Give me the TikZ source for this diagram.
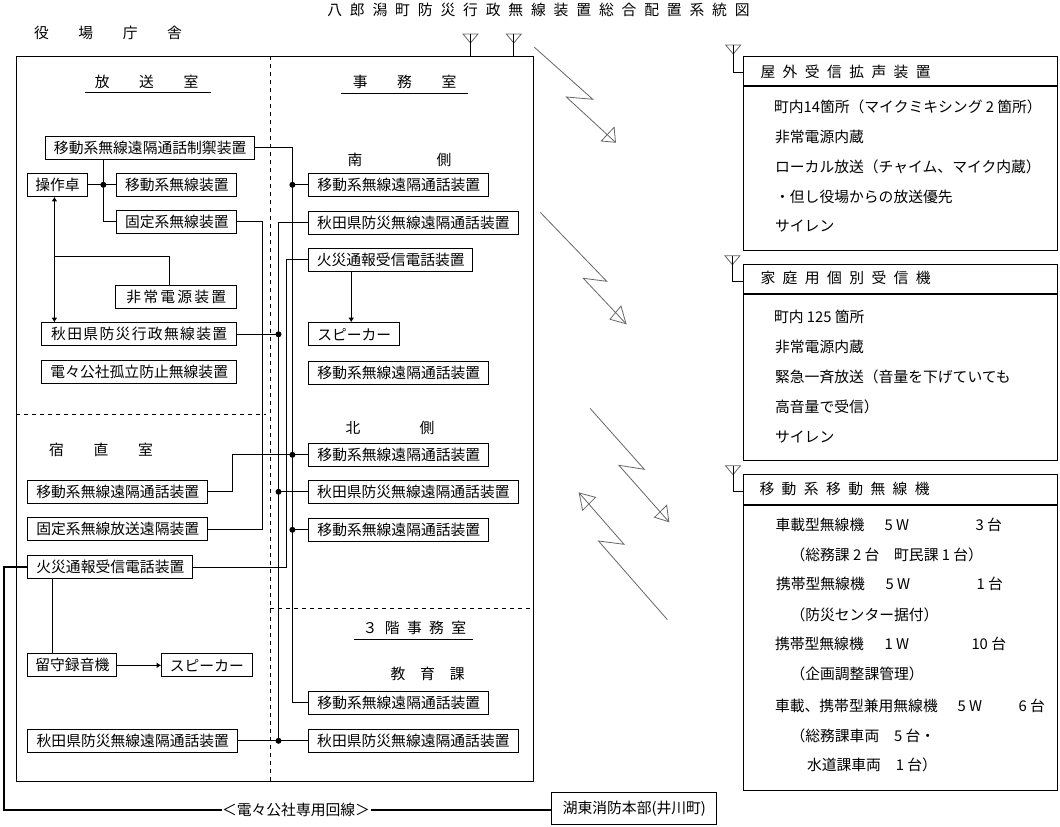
\documentclass[tikz,border=0pt]{standalone}
\usepackage{fontspec}
\setmainfont{Noto Sans CJK JP}
\usetikzlibrary{arrows.meta, calc}
\newcommand{\ls}[1]{\addfontfeature{LetterSpace=#1}}
\tikzset{
  box/.style={draw, anchor=west, inner sep=0pt, minimum height=23*0.75pt, minimum width=#1*0.75pt},
  panel/.style 2 args={draw, anchor=north west, inner sep=0pt, minimum width=314.5*0.75pt, minimum height=#2*0.75pt},
  txt/.style={inner sep=0pt},
  lst/.style={inner sep=0pt, anchor=west},
  dot/.style={circle, fill, inner sep=0pt, minimum size=6*0.75pt},
  arr/.style={-{Latex[length=1.2mm, width=1.5mm]}},
  arrs/.style={{Latex[length=1.2mm, width=1.5mm]}-{Latex[length=1.2mm, width=1.5mm]}},
  tel/.style={line width=1.6pt},
  wave/.style={draw=black!60, line width=0.6pt},
  ant/.pic={\draw[black!60, line width=0.6pt] (-7.5,0) -- (7.5,0) -- (0,9) -- cycle;},
}

\begin{document}
\begin{tikzpicture}[x=0.75pt, y=-0.75pt, line width=0.75pt, font=\fontsize{11.1}{13}\selectfont]
    \useasboundingbox (0,0) rectangle (1060,827);

    \node[txt] (title) at (538.5,9.5) {\ls{53}八郎潟町防災行政無線装置総合配置系統図};
    \node[txt] (bldg) at (108,33) {役　　場　　庁　　舎};

    % building
    \draw (16,56.5) rectangle (533.5,781);
    \coordinate (walltop) at (0,56.5);
    \draw[dashed] (270.4,56.5) -- (270.4,781);
    \draw[dashed] (16,414.3) -- (266,414.3);
    \draw[dashed] (270.4,608.3) -- (533.5,608.3);

    % rooms
    \node[txt] (broad) at (146.6,81.7) {放　　送　　室};
    \draw (84.8,92.3) -- (210.6,92.3);
    \node[txt] (office) at (404.6,81.7) {事　　務　　室};
    \draw (341,93.3) -- (468,93.3);
    \node[txt] (south) at (399.5,160) {南　　　　　側};
    \node[txt] (north) at (390,428.3) {北　　　　側};
    \node[txt] (night) at (101,450) {宿　　直　　室};
    \node[txt] (third) at (414.4,627.7) {\ls{50}３階事務室};
    \draw (354,639.3) -- (472.5,639.3);
    \node[txt] (edu) at (427.6,674) {教　育　課};

    % left side
    \node[box=208.7] (ctrl) at (45.3,147.8) {移動系無線遠隔通話制禦装置};
    \node[box=59.1] (op) at (27.4,184.8) {操作卓};
    \node[box=120] (mobr) at (116.3,184.8) {移動系無線装置};
    \node[box=120] (fixr) at (116.3,221.8) {固定系無線装置};
    \node[box=121] (emg) at (115.3,296.8) {\ls{15}非常電源装置};
    \node[box=195.1] (bosai) at (41.2,334.3) {\ls{9}秋田県防災行政無線装置};
    \node[box=195.1] (kosha) at (41.2,372.2) {電々公社孤立防止無線装置};
    \node[box=179.8] (tmob) at (27.4,491.8) {移動系無線遠隔通話装置};
    \node[box=179.8] (tfix) at (27.4,529.3) {固定系無線放送遠隔装置};
    \node[box=164.9] (fl) at (27.4,567.3) {火災通報受信電話装置};
    \node[box=88.9] (rec) at (27.4,665.3) {留守録音機};
    \node[box=90.3] (spkl) at (161.2,665.3) {スピーカー};
    \node[box=209.9] (prefl) at (27.4,740.8) {秋田県防災無線遠隔通話装置};

    % right side
    \node[box=180.1] (smob) at (308.3,184.8) {移動系無線遠隔通話装置};
    \node[box=209.2] (spref) at (308.3,222.8) {秋田県防災無線遠隔通話装置};
    \node[box=163.9] (fr) at (308.3,259.8) {火災通報受信電話装置};
    \node[box=90.9] (spkr) at (308.3,334.3) {スピーカー};
    \node[box=180.1] (smob2) at (308.3,372.8) {移動系無線遠隔通話装置};
    \node[box=180.1] (nmob) at (308.3,454.8) {移動系無線遠隔通話装置};
    \node[box=209.2] (npref) at (308.3,491.8) {秋田県防災無線遠隔通話装置};
    \node[box=180.1] (nmob2) at (308.3,529.8) {移動系無線遠隔通話装置};
    \node[box=180.1] (kmob) at (308.3,702.8) {移動系無線遠隔通話装置};
    \node[box=209.2] (kpref) at (308.3,740.8) {秋田県防災無線遠隔通話装置};

    \node[box=164.9, minimum height=32*0.75pt] (kotou) at (551.4,808.3) {湖東消防本部(井川町)};
    \node[txt] (line) at (296,809.7) {＜電々公社専用回線＞};

    % wire columns
    \coordinate (mobx) at (292.4,0);
    \coordinate (prefx) at (278.5,0);
    \coordinate (firex) at (286.3,0);
    \coordinate (fixx) at (262.6,0);
    \coordinate (dropx) at (103.4,0);
    \coordinate (pwrx) at (54.4,0);
    \coordinate (pwrt) at (169.3,0);
    \coordinate (spkx) at (351.2,0);
    \coordinate (recx) at (52.4,0);
    \coordinate (tmobx) at (232.2,0);
    \coordinate (telx) at (4,0);

    \draw (ctrl.east) -- (ctrl.east -| mobx) -- (kmob.west -| mobx) -- (kmob.west);
    \draw (smob.west) -- (smob.west -| mobx) node[dot] (d1) {};
    \draw (nmob.west) -- (tmobx |- nmob.west) -- (tmobx |- tmob.east) -- (tmob.east);
    \node[dot] (d2) at (nmob.west -| mobx) {};
    \draw (nmob2.west) -- (nmob2.west -| mobx) node[dot] (d3) {};

    \draw (spref.west) -- (spref.west -| prefx) -- (kpref.west -| prefx);
    \draw (bosai.east) -- (bosai.east -| prefx) node[dot] (d4) {};
    \draw (npref.west) -- (npref.west -| prefx) node[dot] (d5) {};
    \draw (prefl.east) -- (kpref.west);
    \node[dot] (d6) at (kpref.west -| prefx) {};

    \draw (fr.west) -- (fr.west -| firex) -- (fl.east -| firex) -- (fl.east);
    \draw (fixr.east) -- (fixr.east -| fixx) -- (tfix.east -| fixx) -- (tfix.east);
    \draw (ctrl.south -| dropx) -- (fixr.west -| dropx) -- (fixr.west);
    \draw (op.east) -- (mobr.west);
    \node[dot] (d7) at (op.east -| dropx) {};

    \draw[arrs] (op.south -| pwrx) -- (bosai.north -| pwrx);
    \coordinate (pwrj) at (54.4,256.3);
    \draw (emg.north -| pwrt) |- (pwrj);

    \draw[arr] (fr.south -| spkx) -- (spkr.north -| spkx);
    \draw (fl.south -| recx) -- (rec.north -| recx);
    \draw[arr] (rec.east) -- (spkl.west);

    \draw[tel] (fl.west) -- (fl.west -| telx) -- (telx |- line.west) -- (line.west);
    \draw[tel] (line.east) -- (line.east -| kotou.west);

    % antennas on the roof
    \pic (ra) at (470.5,34) {ant};
    \pic (rb) at (513.8,34) {ant};
    \coordinate (rat) at (470.5,34);
    \coordinate (rbt) at (513.8,34);
    \draw (rat) -- (rat |- walltop);
    \draw (rbt) -- (rbt |- walltop);

    % radio waves
    \coordinate (w1s) at (534.4,47.3);
    \coordinate (w1e) at (615.5,142.3);
    \draw[wave] (w1s) -- (592.8,99.3) -- (566.3,97) -- (w1e);
    \draw[wave] (w1e) -- (614.1,127.3) -- (601.3,141) -- cycle;
    \coordinate (w2s) at (540.2,212.3);
    \coordinate (w2e) at (626,323.7);
    \draw[wave] (w2s) -- (606.7,281.3) -- (583.3,278.3) -- (w2e);
    \draw[wave] (w2e) -- (621,306) -- (610,319.3) -- cycle;
    \coordinate (w3s) at (590,408.3);
    \coordinate (w3e) at (668.8,521.7);
    \draw[wave] (w3s) -- (644.3,469.3) -- (618.9,465.3) -- (w3e);
    \draw[wave] (w3e) -- (666.7,505.3) -- (654.5,517.3) -- cycle;
    \coordinate (w4s) at (667.4,619.7);
    \coordinate (w4e) at (579.2,493);
    \draw[wave] (w4s) -- (598.5,541) -- (624,544.3) -- (w4e);
    \draw[wave] (w4e) -- (595.5,497.3) -- (582.6,510.3) -- cycle;

    % outdoor units
    \node[panel={}{29.6}] (h1) at (742.5,55.7) {};
    \node[panel={}{163.7}] (b1) at (h1.south west) {};
    \pic (a1) at (733.2,45) {ant};
    \coordinate (a1t) at (733.2,45);
    \draw (a1t) |- ([yshift=-1.4pt]h1.west);
    \node[lst] (h1t) at (760,71.7) {\ls{50}屋外受信拡声装置};
    \node[lst] (l11) at (773.5,107.3) {町内14箇所（マイクミキシング 2 箇所）};
    \node[lst] (l12) at (774.6,137.3) {非常電源内蔵};
    \node[lst] (l13) at (774.6,167) {ローカル放送（チャイム、マイク内蔵）};
    \node[lst] (l14) at (774.6,197) {・但し役場からの放送優先};
    \node[lst] (l15) at (774.6,226) {サイレン};

    % household receivers
    \node[panel={}{29}] (h2) at (742.5,264.3) {};
    \node[panel={}{166}] (b2) at (h2.south west) {};
    \pic (a2) at (732.4,255.7) {ant};
    \coordinate (a2t) at (732.4,255.7);
    \draw (a2t) |- ([yshift=-1.4pt]h2.west);
    \node[lst] (h2t) at (760,278.3) {\ls{50}家庭用個別受信機};
    \node[lst] (l21) at (773.5,316.7) {町内 125 箇所};
    \node[lst] (l22) at (774.6,346.7) {非常電源内蔵};
    \node[lst] (l23) at (774.6,377.3) {緊急一斉放送（音量を下げていても};
    \node[lst] (l24) at (774.6,406.7) {高音量で受信）};
    \node[lst] (l25) at (774.6,436.7) {サイレン};

    % mobile radios
    \node[panel={}{30.6}] (h3) at (742.5,473.7) {};
    \node[panel={}{284.7}] (b3) at (h3.south west) {};
    \pic (a3) at (733,465.7) {ant};
    \coordinate (a3t) at (733.6,465.7);
    \draw (a3t) |- ([yshift=-1.4pt]h3.west);
    \node[lst] (h3t) at (759,489) {\ls{50}移動系移動無線機};
    \node[lst] (l31) at (775,525) {車載型無線機};
    \node[lst] (l31w) at (884,525) {5 W};
    \node[lst] (l31n) at (975,525) {3 台};
    \node[lst] (l32) at (790,554.7) {（総務課 2 台　町民課 1 台）};
    \node[lst] (l33) at (775.5,584.3) {携帯型無線機};
    \node[lst] (l33w) at (885,584.3) {5 W};
    \node[lst] (l33n) at (976,584.3) {1 台};
    \node[lst] (l34) at (790,614.7) {（防災センター据付）};
    \node[lst] (l35) at (774.5,644.3) {携帯型無線機};
    \node[lst] (l35w) at (884,644.3) {1 W};
    \node[lst] (l35n) at (971,644.3) {10 台};
    \node[lst] (l36) at (790,674.3) {（企画調整課管理）};
    \node[lst] (l37) at (774.5,705.7) {車載、携帯型兼用無線機};
    \node[lst] (l37w) at (957,705.7) {5 W};
    \node[lst] (l37n) at (1018,705.7) {6 台};
    \node[lst] (l38) at (790,735.7) {（総務課車両　5 台・};
    \node[lst] (l39) at (806.5,765.3) {水道課車両　1 台）};
\end{tikzpicture}
\end{document}
